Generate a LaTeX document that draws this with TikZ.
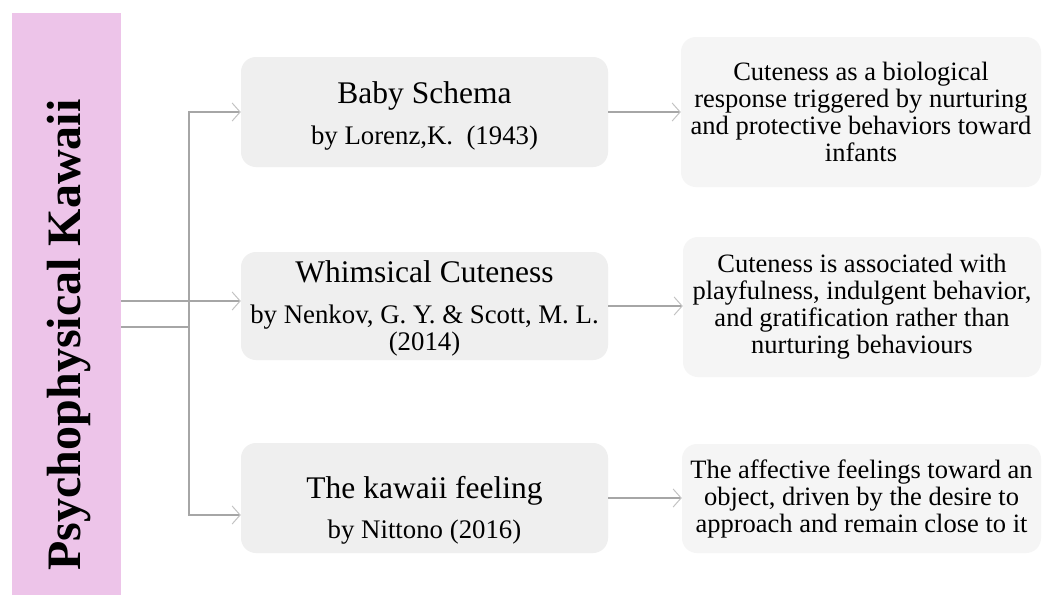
\documentclass[tikz,border=0pt]{standalone}
\usepackage{fontspec}
\setmainfont{Liberation Serif}
\usetikzlibrary{arrows.meta,calc}
\definecolor{barpink}{RGB}{237,196,233}
\definecolor{midgray}{RGB}{239,239,239}
\definecolor{rightgray}{RGB}{245,245,245}
\definecolor{linegray}{RGB}{166,166,166}
\definecolor{tipgray}{RGB}{195,195,195}

\tikzset{
  sidebar/.style={fill=barpink, draw=none, inner sep=0pt,
    minimum width=109pt, minimum height=582pt},
  sidetitle/.style={rotate=90, inner sep=0pt,
    font=\fontsize{48}{50}\selectfont\bfseries},
  midbox/.style={fill=midgray, draw=none, rounded corners=15pt, inner sep=0pt,
    minimum width=367pt, minimum height=#1},
  rightbox/.style={fill=rightgray, draw=none, rounded corners=15pt, inner sep=0pt,
    align=center, font=\fontsize{26.5}{27}\selectfont},
  headtext/.style={anchor=base, inner sep=0pt, font=\fontsize{31.5}{34}\selectfont},
  subtext/.style={anchor=base, inner sep=0pt, font=\fontsize{26.8}{28}\selectfont},
  conn/.style={draw=linegray, line width=1.2pt},
  arr/.style={conn, -{Straight Barb[length=8pt,width=18pt,line width=1pt,color=tipgray]}}
}

\begin{document}
\begin{tikzpicture}[x=1pt,y=-1pt]
  % canvas
  \fill[white] (0,0) rectangle (1042,595);
  \useasboundingbox (0,0) rectangle (1042,595);

  % vertical title bar
  \node[sidebar] (root) at (66.5,304) {};
  \node[sidetitle] (roottitle) at (69,335) {Psychophysical Kawaii};

  % theory boxes
  \node[midbox=110pt] (m1) at (424.5,112) {};
  \node[headtext] (m1t) at (424.5,103) {Baby Schema};
  \node[subtext] (m1s) at (424.5,144) {by Lorenz,K.~~(1943)};

  \node[midbox=108pt] (m2) at (424.5,306) {};
  \node[headtext] (m2t) at (424.5,282) {Whimsical Cuteness};
  \node[subtext] (m2s) at (424.5,323) {by Nenkov, G. Y. \& Scott, M. L.};
  \node[subtext] (m2y) at (424.5,350) {(2014)};

  \node[midbox=110pt] (m3) at (424.5,498) {};
  \node[headtext] (m3t) at (424.5,498) {The kawaii feeling};
  \node[subtext] (m3s) at (424.5,538) {by Nittono (2016)};

  % description boxes
  \node[rightbox, minimum width=360pt, minimum height=150pt] (r1) at (861,112)
    {Cuteness as a biological\\response triggered by nurturing\\and protective behaviors toward\\infants};
  \node[rightbox, minimum width=358pt, minimum height=140pt] (r2) at (862,307)
    {Cuteness is associated with\\playfulness, indulgent behavior,\\and gratification rather than\\nurturing behaviours};
  \node[rightbox, minimum width=359pt, minimum height=109pt] (r3) at (861.5,498.5)
    {The affective feelings toward an\\object, driven by the desire to\\approach and remain close to it};

  % connectors from the title bar
  \coordinate (j) at (189,327);
  \coordinate (m2in) at ($(m2.west)+(0,-5)$);
  \coordinate (m3in) at ($(m3.west)+(0,17)$);
  \draw[conn] (root.east |- j) -- (j);
  \draw[arr] (j) |- (m1.west);
  \draw[arr] (j) |- (m3in);
  \draw[arr] (root.east |- m2in) -- (m2in);

  % connectors to the descriptions
  \draw[arr] (m1.east) -- (m1.east -| r1.west);
  \draw[arr] (m2.east) -- (m2.east -| r2.west);
  \draw[arr] (m3.east) -- (m3.east -| r3.west);
\end{tikzpicture}
\end{document}
